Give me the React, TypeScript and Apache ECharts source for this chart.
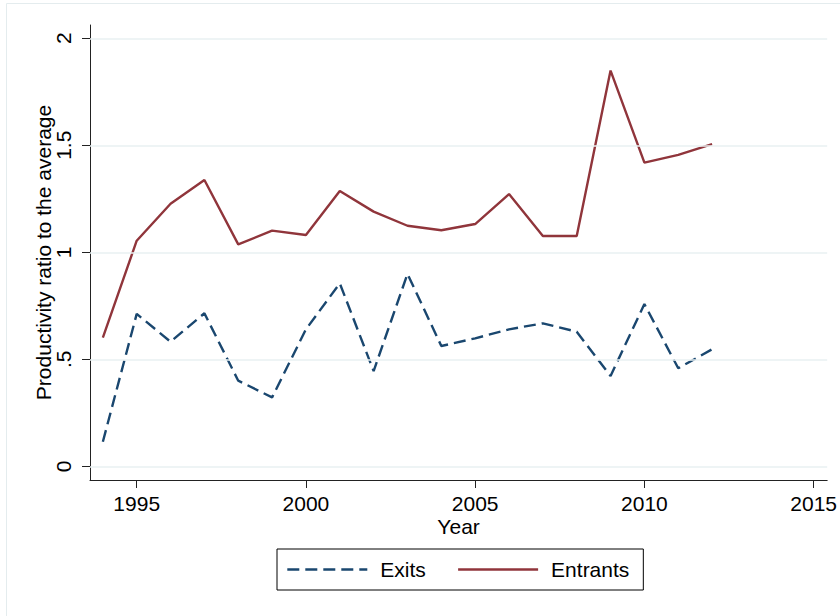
import React, { useRef, useEffect } from "react"
import * as echarts from "echarts"

// data
const years = [1994, 1995, 1996, 1997, 1998, 1999, 2000, 2001, 2002, 2003, 2004, 2005, 2006, 2007, 2008, 2009, 2010, 2011, 2012]
const exits = [0.115, 0.712, 0.582, 0.715, 0.4, 0.322, 0.64, 0.855, 0.445, 0.899, 0.562, 0.598, 0.64, 0.668, 0.629, 0.422, 0.758, 0.458, 0.547]
const entrants = [0.601, 1.054, 1.227, 1.338, 1.037, 1.101, 1.081, 1.286, 1.19, 1.124, 1.103, 1.132, 1.272, 1.076, 1.076, 1.849, 1.419, 1.455, 1.505]
const xTicks = [1995, 2000, 2005, 2010, 2015]
const yTicks = [0, 0.5, 1, 1.5, 2]
const yTickLabels = ["0", ".5", "1", "1.5", "2"]

const FONT = "'Liberation Sans', Arial, sans-serif"
const NAVY = "#1A476F"
const MAROON = "#90353B"

export default function App() {
  const chartRef = useRef<HTMLDivElement>(null)

  useEffect(() => {
    if (!chartRef.current) return
    const chart = echarts.init(chartRef.current, undefined, { renderer: "svg" })

    const option = {
      animation: false,
      backgroundColor: "#fff",
      textStyle: { fontFamily: FONT },
      graphic: [
        {
          type: "rect",
          shape: { x: 6.5, y: 3.5, width: 840, height: 620 },
          style: { fill: "none", stroke: "#E4ECEE", lineWidth: 1 },
          silent: true,
          z: -10
        }
      ],
      grid: { left: 90, top: 25, width: 740, height: 455 },
      legend: {
        left: 277,
        top: 549,
        orient: "horizontal",
        padding: [10, 14, 10, 9],
        itemGap: 31,
        itemWidth: 80,
        itemHeight: 20,
        borderColor: "#000",
        borderWidth: 1,
        borderRadius: 0,
        itemStyle: { opacity: 0 },
        lineStyle: { width: 2.6 },
        textStyle: { fontSize: 21, color: "#000", fontFamily: FONT, padding: [0, 0, 0, 8] },
        data: ["Exits", "Entrants"]
      },
      xAxis: {
        type: "value",
        min: 1993.62,
        max: 2015.4,
        name: "Year",
        nameLocation: "middle",
        nameGap: 36,
        nameMoveOverlap: false,
        nameTextStyle: { fontSize: 21, color: "#000" },
        axisLine: { show: true, onZero: false, lineStyle: { color: "#222", width: 1 } },
        axisTick: { show: true, length: 8, lineStyle: { color: "#222" }, customValues: xTicks },
        axisLabel: {
          fontSize: 21,
          color: "#000",
          margin: 13,
          customValues: xTicks,
          formatter: (v: number) => String(v)
        },
        splitLine: { show: false }
      },
      yAxis: {
        type: "value",
        min: -0.064,
        max: 2.062,
        name: "Productivity ratio to the average",
        nameLocation: "middle",
        nameGap: 36,
        nameMoveOverlap: false,
        nameTextStyle: { fontSize: 21, color: "#000" },
        axisLine: { show: true, onZero: false, lineStyle: { color: "#222", width: 1 } },
        axisTick: { show: true, length: 8, lineStyle: { color: "#222" }, customValues: yTicks },
        axisLabel: {
          fontSize: 21,
          color: "#000",
          margin: 16,
          rotate: 90,
          customValues: yTicks,
          formatter: (v: number) => {
            const i = yTicks.findIndex((t) => Math.abs(t - v) < 1e-6)
            return i >= 0 ? yTickLabels[i] : ""
          }
        },
        splitLine: { show: false }
      },
      series: [
        {
          name: "grid",
          type: "line",
          data: [],
          silent: true,
          z: 0,
          markLine: {
            silent: true,
            symbol: "none",
            label: { show: false },
            lineStyle: { color: "#E8F0F2", width: 1.5, type: "solid" },
            data: yTicks.map((t) => ({ yAxis: t }))
          }
        },
        {
          name: "Exits",
          type: "line",
          data: years.map((y, i) => [y, exits[i]]),
          showSymbol: false,
          symbol: "none",
          z: 3,
          itemStyle: { color: NAVY },
          lineStyle: { color: NAVY, width: 2.4, type: [12, 6] }
        },
        {
          name: "Entrants",
          type: "line",
          data: years.map((y, i) => [y, entrants[i]]),
          showSymbol: false,
          symbol: "none",
          z: 3,
          itemStyle: { color: MAROON },
          lineStyle: { color: MAROON, width: 2.4 }
        }
      ]
    }

    chart.setOption(option as any)
    return () => {
      chart.dispose()
    }
  }, [])

  return (
    <div
      ref={chartRef}
      style={{ position: "absolute", left: 0, top: 0, width: 840, height: 616 }}
    />
  )
}
